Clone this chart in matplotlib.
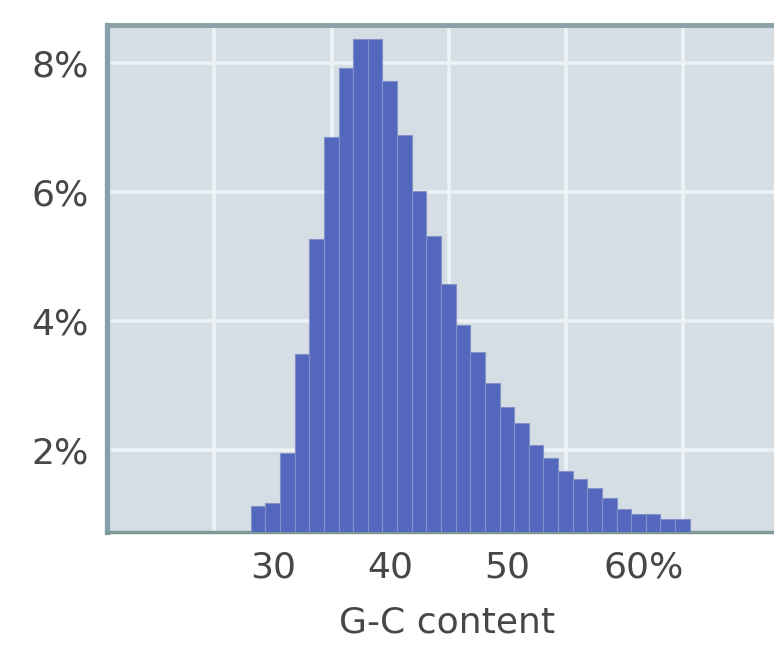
import numpy as np
import matplotlib.pyplot as plt
from matplotlib.transforms import ScaledTranslation

# G-C content histogram (share of genes per bin, in %)
gc_bin_start = 28.1
gc_bin_width = 1.25
pct_genes = [1.13, 1.18, 1.95, 3.49, 5.27, 6.85, 7.92, 8.37, 8.37, 7.72,
             6.88, 6.02, 5.32, 4.57, 3.94, 3.53, 3.04, 2.67, 2.42, 2.08,
             1.88, 1.67, 1.55, 1.41, 1.26, 1.09, 1.01, 1.01, 0.93, 0.93]

x_ticks = [30, 40, 50, 60]
x_tick_labels = ['30', '40', '50', '60%']
x_grid = [25, 30, 35, 40, 45, 50, 55, 60, 65]
y_ticks = [2, 4, 6, 8]
y_tick_labels = ['2%', '4%', '6%', '8%']

text_color = '#474747'
plt.rcParams['font.family'] = 'DejaVu Sans'

fig = plt.figure(figsize=(7.74, 6.45), dpi=100)
ax = fig.add_axes([0.138, 0.175, 0.862, 0.786])
ax.set_facecolor('#d4dee4')

edges = gc_bin_start + gc_bin_width * np.arange(len(pct_genes) + 1)
ax.bar(edges[:-1], pct_genes, width=gc_bin_width, align='edge',
       color='#5367bf', edgecolor='#8391c6', linewidth=0.8, zorder=3)

ax.set_xlim(15.8, 72.8)
ax.set_ylim(0.73, 8.59)

ax.set_xticks(x_ticks, x_tick_labels)
ax.set_xticks(x_grid, minor=True)
ax.set_yticks(y_ticks, y_tick_labels)
ax.grid(which='minor', axis='x', color='#ecf2f5', linewidth=2.6, zorder=1)
ax.grid(which='major', axis='y', color='#ecf2f5', linewidth=2.6, zorder=1)
ax.grid(which='major', axis='x', visible=False)

ax.tick_params(which='both', length=0, labelsize=26, colors=text_color)
ax.tick_params(axis='x', pad=13)
ax.tick_params(axis='y', pad=13)

# the "60%" label sits a little to the right in the original
lbl = ax.get_xticklabels()[-1]
lbl.set_transform(lbl.get_transform() + ScaledTranslation(0.2, 0, fig.dpi_scale_trans))

ax.set_xlabel('G-C content', fontsize=26, color=text_color)
ax.xaxis.set_label_coords(0.51, -0.145)

ax.spines['right'].set_visible(False)
ax.spines['left'].set_color('#86a0ab')
ax.spines['left'].set_linewidth(3.8)
ax.spines['top'].set_color('#8aa0a8')
ax.spines['top'].set_linewidth(3.5)
ax.spines['bottom'].set_color('#7f9898')
ax.spines['bottom'].set_linewidth(2.5)

fig.savefig('out.png', dpi=100)
